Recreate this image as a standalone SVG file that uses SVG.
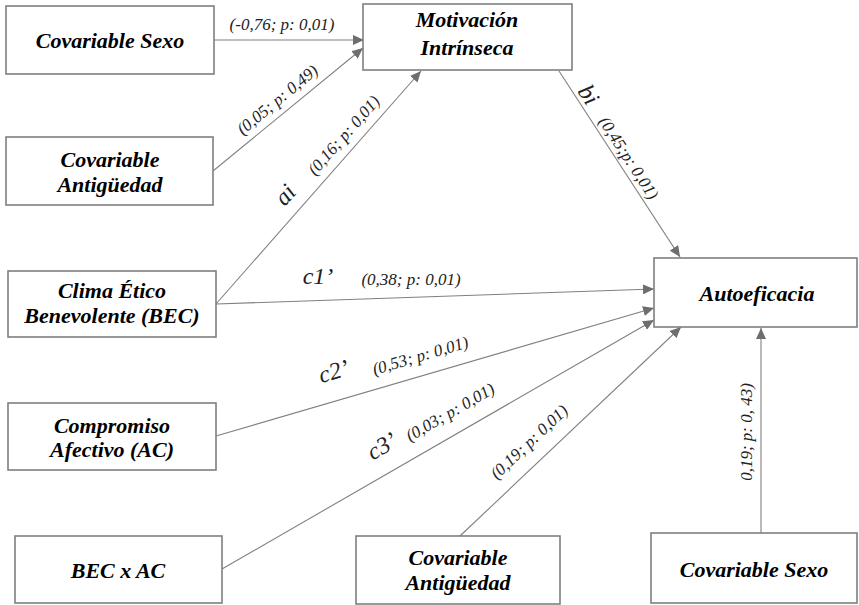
<svg xmlns="http://www.w3.org/2000/svg" width="859" height="605" viewBox="0 0 859 605">
<defs>
<marker id="ah" markerUnits="userSpaceOnUse" markerWidth="12" markerHeight="10" refX="11" refY="5" orient="auto">
<path d="M0,0 L11,5 L0,10 Z" fill="#6e6e6e"/>
</marker>
</defs>
<rect width="859" height="605" fill="#fff"/>
<g id="connectors" stroke="#808080" stroke-width="1.1" fill="none" marker-end="url(#ah)">
<line x1="214" y1="40" x2="364" y2="40"/>
<line x1="213" y1="171" x2="363" y2="48"/>
<line x1="216" y1="304" x2="421" y2="71"/>
<line x1="559" y1="71" x2="680" y2="257"/>
<line x1="216" y1="304" x2="654" y2="289"/>
<line x1="216" y1="436" x2="654" y2="308"/>
<line x1="222" y1="569" x2="654" y2="320"/>
<line x1="460" y1="536" x2="681" y2="327"/>
<line x1="761" y1="533" x2="761" y2="328"/>
</g>
<g id="labels" fill="#222" text-anchor="middle" font-style="italic">
<text font-family="Liberation Serif" font-size="17" x="282" y="30">(-0,76; p: 0,01)</text>
<text font-family="Liberation Serif" font-size="17" transform="translate(281,104) rotate(-39.4)">(0,05; p: 0,49)</text>
<text font-family="Liberation Serif" font-size="24" transform="translate(291,200) rotate(-48.5)">ai</text>
<text font-family="Liberation Serif" font-size="17" transform="translate(348,139) rotate(-48.5)">(0,16; p: 0,01)</text>
<text font-family="Liberation Serif" font-size="24" transform="translate(582,99) rotate(57)">bi</text>
<text font-family="Liberation Serif" font-size="17" transform="translate(624,161) rotate(57)">(0,45;p: 0,01)</text>
<text font-family="Liberation Serif" font-size="24" x="318" y="284">c1&#8217;</text>
<text font-family="Liberation Serif" font-size="17" x="411" y="285">(0,38; p: 0,01)</text>
<text font-family="Liberation Serif" font-size="24" transform="translate(336,379) rotate(-16.4)">c2&#8217;</text>
<text font-family="Liberation Serif" font-size="17" transform="translate(422,361) rotate(-16.4)">(0,53; p: 0,01)</text>
<text font-family="Liberation Serif" font-size="24" transform="translate(386,453) rotate(-30)">c3&#8217;</text>
<text font-family="Liberation Serif" font-size="17" transform="translate(453,417) rotate(-30)">(0,03; p: 0,01)</text>
<text font-family="Liberation Serif" font-size="17" transform="translate(533,446) rotate(-43.4)">(0,19; p: 0,01)</text>
<text font-family="Liberation Serif" font-size="17" transform="translate(752,432) rotate(-90)">0,19; p: 0, 43)</text>
</g>
<g id="nodes" fill="#fff" stroke="#7f7f7f" stroke-width="1.6">
<g id="n-sexo1"><rect x="6" y="6" width="208" height="68"/></g>
<g id="n-antig1"><rect x="6" y="137" width="207" height="68"/></g>
<g id="n-bec"><rect x="8" y="271" width="208" height="66"/></g>
<g id="n-ac"><rect x="8" y="403" width="208" height="67"/></g>
<g id="n-becxac"><rect x="15" y="536" width="207" height="67"/></g>
<g id="n-antig2"><rect x="356" y="536" width="204" height="68"/></g>
<g id="n-sexo2"><rect x="651" y="533" width="206" height="70"/></g>
<g id="n-motiv"><rect x="363" y="4" width="209" height="66"/></g>
<g id="n-autoef"><rect x="654" y="258" width="203" height="69"/></g>
</g>
<g id="node-texts" fill="#000" text-anchor="middle" font-weight="bold" font-style="italic" font-size="22">
<text font-family="Liberation Serif" x="110" y="48">Covariable Sexo</text>
<text font-family="Liberation Serif" x="110" y="167">Covariable</text>
<text font-family="Liberation Serif" x="110" y="192">Antig&#252;edad</text>
<text font-family="Liberation Serif" x="112" y="298">Clima &#201;tico</text>
<text font-family="Liberation Serif" x="112" y="323">Benevolente (BEC)</text>
<text font-family="Liberation Serif" x="112" y="433">Compromiso</text>
<text font-family="Liberation Serif" x="112" y="457">Afectivo (AC)</text>
<text font-family="Liberation Serif" x="118" y="578">BEC x AC</text>
<text font-family="Liberation Serif" x="458" y="565">Covariable</text>
<text font-family="Liberation Serif" x="458" y="590">Antig&#252;edad</text>
<text font-family="Liberation Serif" x="754" y="577">Covariable Sexo</text>
<text font-family="Liberation Serif" x="467" y="27">Motivaci&#243;n</text>
<text font-family="Liberation Serif" x="467" y="55">Intr&#237;nseca</text>
<text font-family="Liberation Serif" x="757" y="301">Autoeficacia</text>
</g>
</svg>
